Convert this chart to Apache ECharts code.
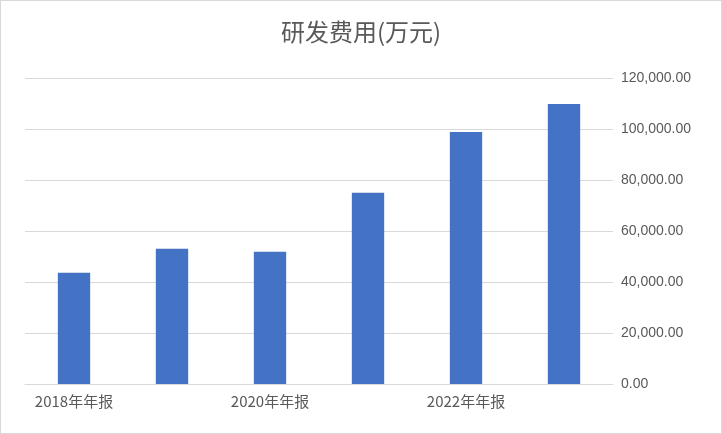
<!DOCTYPE html>
<html><head><meta charset="utf-8">
<script src="https://cdn.jsdelivr.net/npm/echarts@6/dist/echarts.min.js"></script>
<style>html,body{margin:0;padding:0;background:#fff}#c{width:722px;height:434px;box-sizing:border-box;border:1px solid #d9d9d9}</style>
</head><body><div id="c"></div>
<script>
const categories=["2018年年报","2019年年报","2020年年报","2021年年报","2022年年报","2023年年报"];
const values=[43600,53000,51900,75000,98800,109800];
const chart=echarts.init(document.getElementById('c'));
chart.setOption({
  animation:false,
  title:{text:"研发费用(万元)",left:'center',top:14,textStyle:{fontFamily:"Noto Sans CJK SC",fontSize:24,fontWeight:'normal',color:'#595959'}},
  grid:{left:24,right:108,top:77,bottom:49},
  xAxis:{type:'category',data:categories,axisTick:{show:false},axisLine:{lineStyle:{color:'#d9d9d9'}},
    axisLabel:{color:'#595959',fontSize:15,fontFamily:"Noto Sans CJK SC",margin:10}},
  yAxis:{type:'value',position:'right',min:0,max:120000,interval:20000,
    axisLabel:{color:'#595959',fontSize:14,margin:8,formatter:v=>v.toLocaleString('en-US',{minimumFractionDigits:2,maximumFractionDigits:2})},
    splitLine:{lineStyle:{color:'#d9d9d9'}},axisLine:{show:false},axisTick:{show:false}},
  series:[{type:'bar',data:values,barWidth:'33%',itemStyle:{color:'#4472C4'}}]
});
</script></body></html>
